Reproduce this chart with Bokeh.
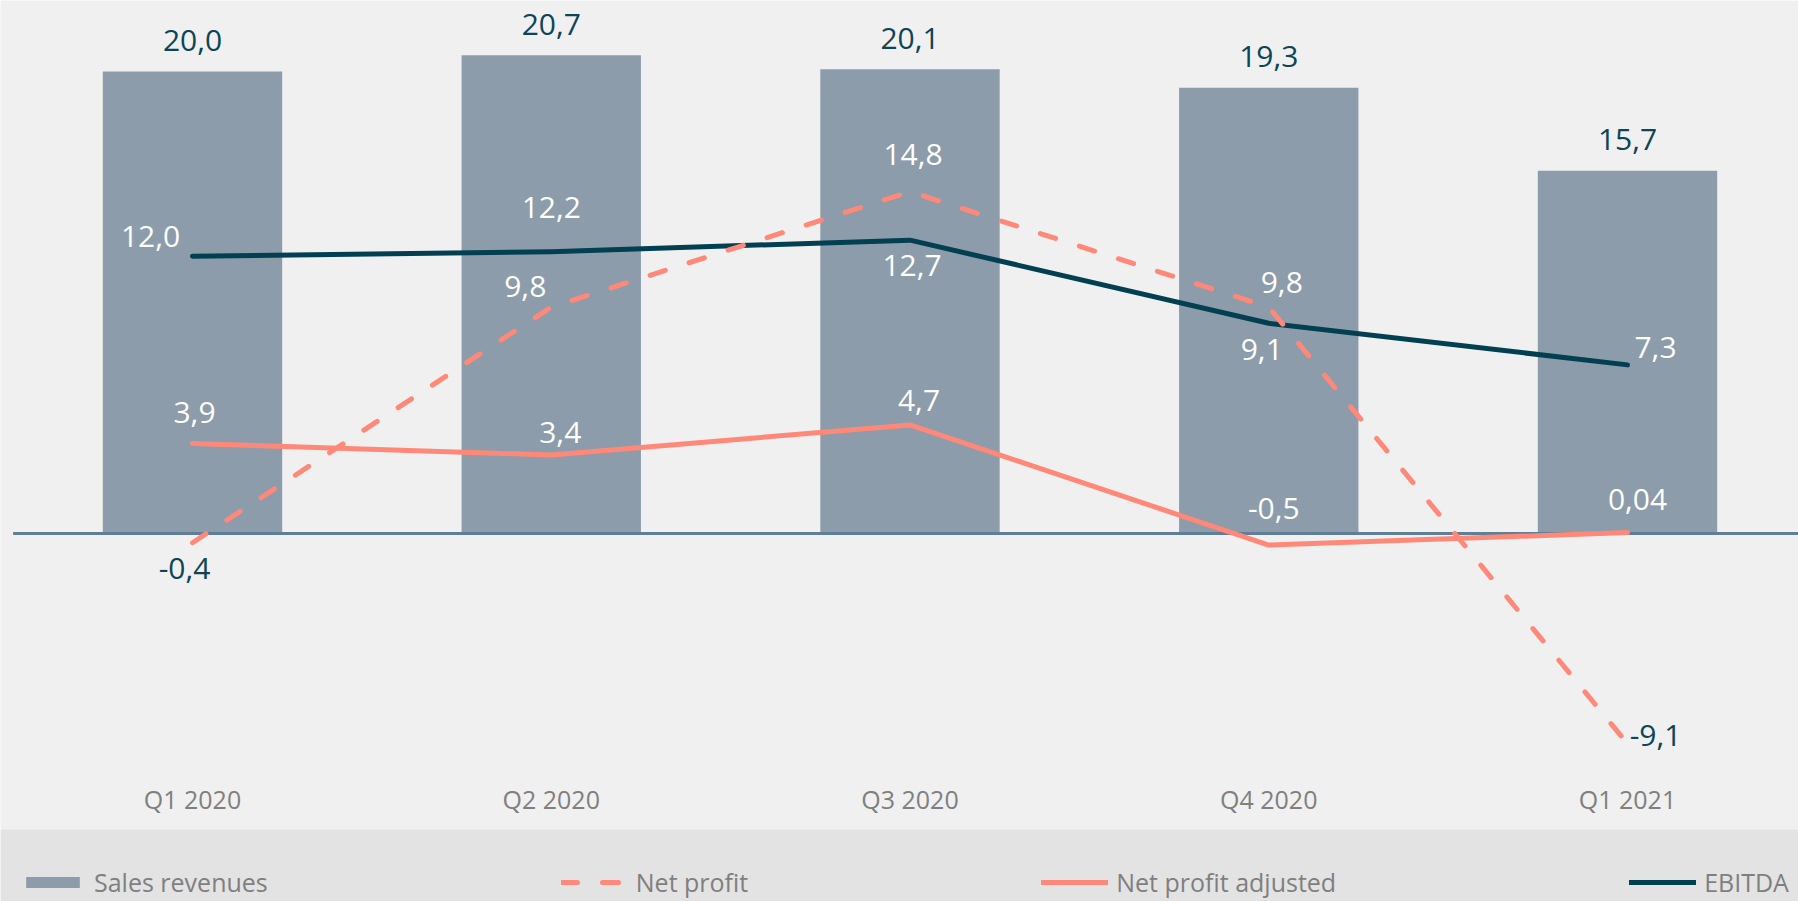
import numpy as np
from bokeh.plotting import figure
from bokeh.models import ColumnDataSource, Legend, LegendItem, BoxAnnotation
from bokeh.core.properties import value
from bokeh.embed import file_html
from bokeh.resources import INLINE

# ---------------- data ----------------
categories = ["Q1 2020", "Q2 2020", "Q3 2020", "Q4 2020", "Q1 2021"]
sales_revenues = [20.0, 20.7, 20.1, 19.3, 15.7]
net_profit = [-0.4, 9.8, 14.8, 9.8, -9.1]
net_profit_adjusted = [3.9, 3.4, 4.7, -0.5, 0.04]
ebitda = [12.0, 12.2, 12.7, 9.1, 7.3]

# ---------------- styling / layout ----------------
W, H = 1798, 901
FONT = "Open Sans"
BG = "#f0f0f0"
BAND = "#e3e3e3"
BAR = "#8c9cab"
TEAL = "#023f51"
TEXT_TEAL = "#0c4556"
SALMON = "#ff8878"
AXIS_LINE = "#5f7f99"
GREY_TXT = "#7f7f7f"

# pixel geometry of the frame (frame == whole canvas)
px_first_center = 192.0
px_step = 358.75
px_zero = 533.0
px_per_unit = 23.1

x_start = -px_first_center / px_step
x_end = (W - px_first_center) / px_step
y_end = px_zero / px_per_unit
y_start = -(H - px_zero) / px_per_unit


def px_to_y(py):
    return (px_zero - py) / px_per_unit


def fmt(v):
    s = f"{v:.1f}" if round(v, 1) == v else f"{v:.2f}"
    return s.replace(".", ",")


idx = list(range(len(categories)))

p = figure(width=W, height=H, x_range=(x_start, x_end), y_range=(y_start, y_end),
           output_backend="svg", toolbar_location=None,
           x_axis_location=None, y_axis_location=None,
           min_border=0, min_border_left=0, min_border_right=0,
           min_border_top=0, min_border_bottom=0, outline_line_color=None)
p.background_fill_color = BG
p.border_fill_color = BG
p.grid.visible = False

# legend band at the bottom
band = BoxAnnotation(left=x_start, right=x_end, bottom=y_start, top=px_to_y(829),
                     fill_color=BAND, fill_alpha=1.0, line_color=None, level="underlay")
p.add_layout(band)

src = ColumnDataSource(dict(
    x=idx, cat=categories,
    sales=sales_revenues, np_=net_profit, adj=net_profit_adjusted, eb=ebitda,
))

bars = p.vbar(x="x", top="sales", bottom=0, width=0.5, source=src,
              fill_color=BAR, line_color=None)

# zero axis line across the category bands
p.segment(x0=[-0.5], x1=[len(categories) - 0.5], y0=[0], y1=[0],
          line_color=AXIS_LINE, line_width=3)

eb_line = p.line(x="x", y="eb", source=src, line_color=TEAL, line_width=5,
                 line_cap="round", line_join="round")
adj_line = p.line(x="x", y="adj", source=src, line_color=SALMON, line_width=5,
                  line_cap="round", line_join="round")
np_line = p.line(x="x", y="np_", source=src, line_color=SALMON, line_width=5,
                 line_dash="16 25", line_cap="round", line_join="round")

# ---------------- data labels ----------------
WHITE = "#ffffff"

def add_labels(vals, dx, dy, colors, size="30px"):
    s = ColumnDataSource(dict(x=idx, y=vals, t=[fmt(v) for v in vals],
                              dx=dx, dy=dy, c=colors))
    p.text(x="x", y="y", text="t", x_offset="dx", y_offset="dy", text_color="c",
           source=s, text_font=value(FONT), text_font_size=size,
           text_align="center", text_baseline="middle")

add_labels(sales_revenues, [0, 0, 0, 0, 0], [-31, -31, -31, -31, -31], [TEXT_TEAL] * 5)
add_labels(ebitda, [-42, 0, 2, -7, 28], [-20, -44, 25, 26, -17], [WHITE] * 5)
add_labels(net_profit, [-8, -26, 3, 13, 28], [26, -21, -37, -25, -8],
           [TEXT_TEAL, WHITE, WHITE, WHITE, TEXT_TEAL])
add_labels(net_profit_adjusted, [2, 9, 9, 5, 10], [-31, -22, -24, -37, -33], [WHITE] * 5)

# category labels
cat_y = [px_to_y(798)] * len(categories)
p.text(x=idx, y=cat_y, text=categories, text_font=value(FONT), text_font_size="25px",
       text_color=GREY_TXT, text_align="center", text_baseline="middle")

# ---------------- legend ----------------
legend = Legend(items=[
    LegendItem(label="Sales revenues", renderers=[bars]),
    LegendItem(label="Net profit", renderers=[np_line]),
    LegendItem(label="Net profit adjusted", renderers=[adj_line]),
    LegendItem(label="EBITDA", renderers=[eb_line]),
], orientation="horizontal", location=(19, 2), spacing=293,
    glyph_width=67, glyph_height=14, label_standoff=8, label_height=30,
    label_text_font=FONT, label_text_font_size="25px", label_text_color=GREY_TXT,
    background_fill_alpha=0, border_line_alpha=0, padding=0, margin=0)
p.add_layout(legend)

open("out.html", "w").write(file_html(p, INLINE))
